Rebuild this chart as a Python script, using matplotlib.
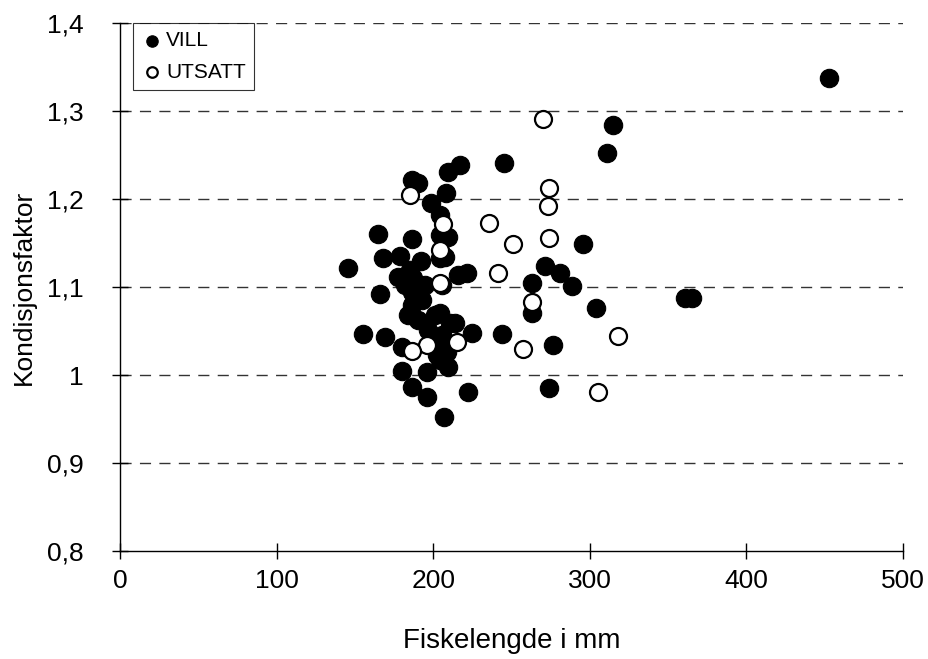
import matplotlib
matplotlib.use("Agg")
import matplotlib.pyplot as plt

plt.rcParams['font.family'] = ['Liberation Sans', 'DejaVu Sans']

# Fish length (mm) and condition factor, wild fish
vill_len = [452.7, 314.8, 311.0, 245.2, 217.1, 209.5, 186.5, 190.3, 208.2, 198.6,
            204.3, 209.5, 204.3, 164.8, 186.5, 295.7, 207.5, 167.9, 178.8, 192.2,
            145.6, 271.4, 281.0, 221.6, 215.8, 177.5, 185.2, 187.1, 263.1, 288.6,
            205.6, 166.0, 186.5, 186.5, 183.9, 190.3, 201.1, 204.3, 210.7, 213.9,
            196.7, 205.6, 224.8, 243.9, 155.2, 169.2, 263.1, 304.0, 276.5, 180.1,
            202.4, 208.8, 202.4, 204.3, 209.5, 196.0, 180.1, 186.5, 196.0, 222.2,
            206.9, 273.9, 360.8, 365.3, 204.3, 192.8, 194.8, 182.0]
vill_k = [1.3375, 1.284, 1.252, 1.241, 1.239, 1.231, 1.222, 1.218, 1.207, 1.195,
          1.182, 1.157, 1.159, 1.160, 1.155, 1.149, 1.134, 1.133, 1.135, 1.130,
          1.122, 1.124, 1.116, 1.116, 1.114, 1.111, 1.119, 1.110, 1.105, 1.101,
          1.102, 1.092, 1.094, 1.080, 1.068, 1.063, 1.068, 1.070, 1.059, 1.059,
          1.051, 1.045, 1.048, 1.047, 1.047, 1.043, 1.070, 1.076, 1.034, 1.032,
          1.032, 1.026, 1.023, 1.017, 1.009, 1.003, 1.005, 0.986, 0.975, 0.981,
          0.952, 0.985, 1.0875, 1.0875, 1.133, 1.085, 1.102, 1.102]

# Stocked fish
utsatt_len = [270.1, 273.9, 273.3, 235.6, 251.0, 273.9, 241.4, 263.1, 257.3, 318.0,
              305.2, 185.2, 206.3, 204.3, 204.3, 215.2, 196.0, 186.5]
utsatt_k = [1.291, 1.2125, 1.192, 1.173, 1.149, 1.156, 1.116, 1.083, 1.030, 1.044,
            0.981, 1.205, 1.172, 1.142, 1.105, 1.0375, 1.034, 1.027]

x_ticks = [0, 100, 200, 300, 400, 500]
y_ticks = [0.8, 0.9, 1.0, 1.1, 1.2, 1.3, 1.4]
y_labels = ["0,8", "0,9", "1", "1,1", "1,2", "1,3", "1,4"]

fig = plt.figure(figsize=(9.29, 6.59), dpi=100)
ax = fig.add_axes([120 / 929, 1 - 551 / 659, 783 / 929, 528 / 659])

for y in y_ticks[1:]:
    ax.axhline(y, color="#333333", lw=1.0, ls=(0, (8, 6)), zorder=1)

ax.scatter(vill_len, vill_k, s=175, c="black", edgecolors="black",
           linewidths=0.8, zorder=3, label="VILL")
ax.scatter(utsatt_len, utsatt_k, s=150, c="white", edgecolors="black",
           linewidths=1.6, zorder=4, label="UTSATT")

ax.set_xlim(0, 500)
ax.set_ylim(0.8, 1.4)
ax.set_xticks(x_ticks)
ax.set_xticklabels([str(v) for v in x_ticks])
ax.set_yticks(y_ticks)
ax.set_yticklabels(y_labels)

for side in ("top", "right"):
    ax.spines[side].set_visible(False)
for side in ("left", "bottom"):
    ax.spines[side].set_linewidth(1.0)
    ax.spines[side].set_color("black")

ax.tick_params(axis="both", direction="inout", length=12, width=1.0,
               labelsize=19, colors="black")
ax.tick_params(axis="x", pad=7)
ax.tick_params(axis="y", pad=20)

ax.set_xlabel("Fiskelengde i mm", fontsize=20, labelpad=25)
ax.set_ylabel("Kondisjonsfaktor", fontsize=19, labelpad=8)

leg = ax.legend(loc="upper left", bbox_to_anchor=(13 / 783, 1.0), frameon=True,
                fancybox=False, edgecolor="black", fontsize=15,
                handletextpad=0.2, borderpad=0.4, labelspacing=0.6,
                markerscale=0.62, handlelength=1.0, borderaxespad=0.0)
leg.get_frame().set_linewidth(0.8)

fig.savefig("out.png", dpi=100)
